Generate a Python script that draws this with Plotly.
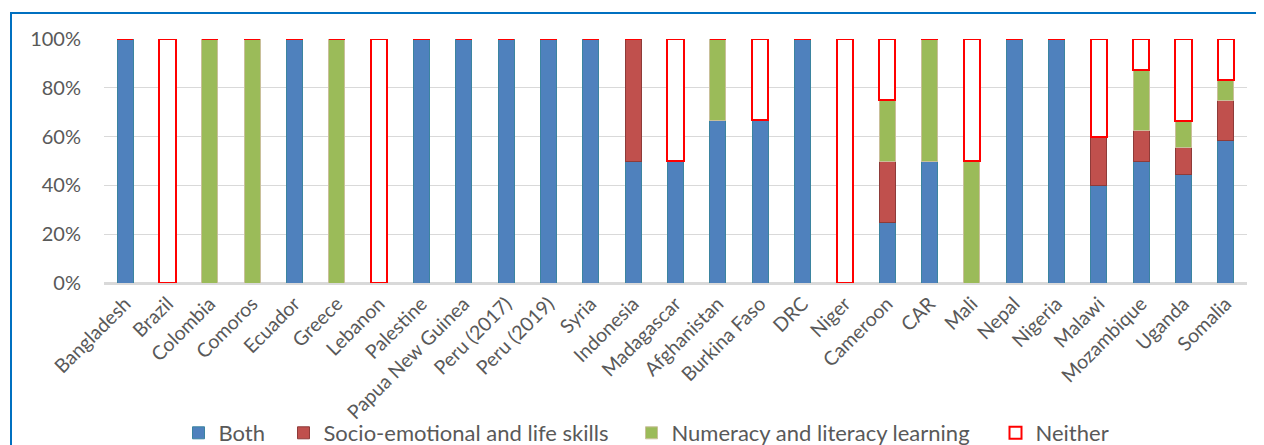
import plotly.graph_objects as go

countries = ["Bangladesh", "Brazil", "Colombia", "Comoros", "Ecuador", "Greece", "Lebanon",
             "Palestine", "Papua New Guinea", "Peru (2017)", "Peru (2019)", "Syria", "Indonesia",
             "Madagascar", "Afghanistan", "Burkina Faso", "DRC", "Niger", "Cameroon", "CAR",
             "Mali", "Nepal", "Nigeria", "Malawi", "Mozambique", "Uganda", "Somalia"]

both = [100, 0, 0, 0, 100, 0, 0, 100, 100, 100, 100, 100, 50, 50, 66.7, 66.7, 100, 0, 25, 50,
        0, 100, 100, 40, 50, 44.4, 58.3]
socio = [0, 0, 0, 0, 0, 0, 0, 0, 0, 0, 0, 0, 50, 0, 0, 0, 0, 0, 25, 0,
         0, 0, 0, 20, 12.5, 11.1, 16.7]
numeracy = [0, 0, 100, 100, 0, 100, 0, 0, 0, 0, 0, 0, 0, 0, 33.3, 0, 0, 0, 25, 50,
            50, 0, 0, 0, 25, 11.1, 8.3]
neither = [0, 100, 0, 0, 0, 0, 100, 0, 0, 0, 0, 0, 0, 50, 0, 33.3, 0, 100, 25, 0,
           50, 0, 0, 40, 12.5, 33.3, 16.7]

series = [
    ("Both", both, "#4F81BD", "#3B84A0", 1, "legend"),
    ("Socio-emotional and life skills", socio, "#C0504D", "#8E3B39", 1, "legend2"),
    ("Numeracy and literacy learning", numeracy, "#9BBB59", "#C9C09A", 1, "legend3"),
    ("Neither", neither, "#FFFFFF", "#FF0000", 2, "legend4"),
]

FONT = "Lato, Liberation Sans, Arial"

fig = go.Figure()
for name, vals, fill, line, lw, lg in series:
    fig.add_trace(go.Bar(
        x=countries, y=vals, name=name, legend=lg,
        marker=dict(color=fill, line=dict(color=line, width=lw)),
    ))

# page has an 8px body margin, so the figure is sized to fit the window
W, H = 1256, 437
ml, mr, mt, mb = 96, 17, 31, 162
pw = W - ml - mr
ph = H - mt - mb

def px_to_paper(px):
    return (px - ml) / pw

def py_to_paper(py):
    return 1 - (py - mt) / ph

legend_common = dict(orientation="h", yref="container", yanchor="middle", y=1 - 425 / H,
                     xanchor="left",
                     font=dict(family=FONT, size=22, color="#595959"),
                     bgcolor="rgba(0,0,0,0)", itemwidth=30, tracegroupgap=0)

frame_color = "#0070C0"

fig.update_layout(
    width=W, height=H,
    template="none",
    barmode="stack", bargap=0.62,
    plot_bgcolor="white", paper_bgcolor="white",
    margin=dict(l=ml, r=mr, t=mt, b=mb, autoexpand=False),
    font=dict(family=FONT, color="#595959"),
    legend=dict(x=px_to_paper(170.5), **legend_common),
    legend2=dict(x=px_to_paper(275.5), **legend_common),
    legend3=dict(x=px_to_paper(623.5), **legend_common),
    legend4=dict(x=px_to_paper(987.5), **legend_common),
    xaxis=dict(tickangle=-45, tickfont=dict(family=FONT, size=19.5, color="#595959"),
               showline=True, linecolor="#D9D9D9", linewidth=1.5, ticks="", showgrid=False,
               automargin=False, range=[-0.5, len(countries) - 0.5]),
    yaxis=dict(range=[0, 100], tickvals=[0, 20, 40, 60, 80, 100],
               ticktext=["0%", "20%", "40%", "60%", "80%", "100%"],
               tickfont=dict(family=FONT, size=20, color="#595959"),
               showgrid=True, gridcolor="#D9D9D9", gridwidth=1.3, ticks="",
               zeroline=True, zerolinecolor="#D9D9D9", zerolinewidth=1.5, ticklabelstandoff=22,
               automargin=False, showline=False),
    shapes=[
        dict(type="line", xref="paper", yref="paper",
             x0=px_to_paper(3), x1=px_to_paper(3), y0=py_to_paper(4), y1=py_to_paper(H + 20),
             line=dict(color=frame_color, width=2)),
        dict(type="line", xref="paper", yref="paper",
             x0=px_to_paper(2), x1=px_to_paper(W + 20), y0=py_to_paper(5), y1=py_to_paper(5),
             line=dict(color=frame_color, width=2)),
    ],
    showlegend=True,
)

fig.write_html("out.html")
